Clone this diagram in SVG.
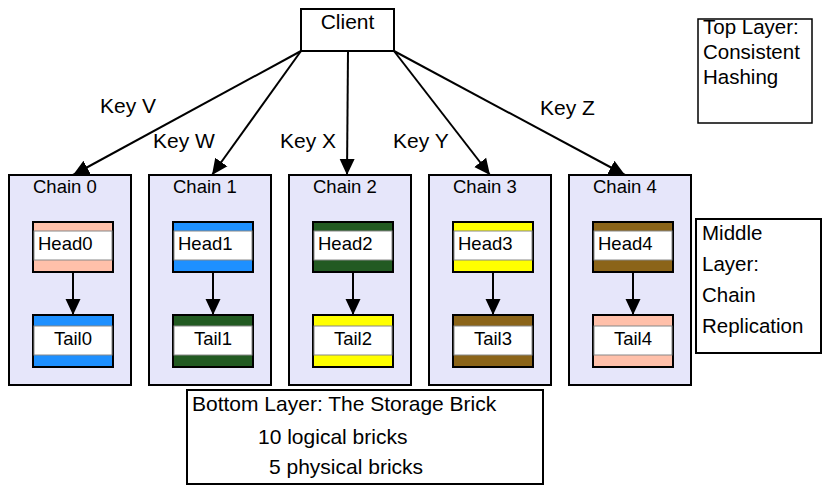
<svg xmlns="http://www.w3.org/2000/svg" width="822" height="486" viewBox="0 0 822 486">
<style>
text{font-family:"Liberation Sans",Arial,sans-serif;fill:#000}
.big{font-size:21px}
.lay{font-size:20.5px}
.sm{font-size:18.5px}
.chain{fill:#E6E6FA;stroke:#000;stroke-width:2}
.box{fill:#fff;stroke:#000;stroke-width:2}
.inner{fill:#fff;stroke:#888;stroke-width:1}
.edge{stroke:#000;stroke-width:2;fill:none;marker-end:url(#arr)}
.salmon{fill:#FFC0AA}
.blue{fill:#1E90FF}
.green{fill:#225A22}
.yellow{fill:#FFFF00}
.brown{fill:#8B6419}
.brick{stroke:#000;stroke-width:2}
</style>
<defs>
<marker id="arr" markerUnits="userSpaceOnUse" markerWidth="18" markerHeight="18" viewBox="0 0 18 18" refX="16" refY="9" orient="auto">
<path d="M0,1.5 L16,9 L0,16.5 Z" fill="#000"/>
</marker>
</defs>
<rect width="822" height="486" fill="#fff"/>

<g id="client">
<rect class="box" x="301" y="9" width="93" height="42"/>
<text class="big" x="347.5" y="29" text-anchor="middle">Client</text>
</g>

<g id="top-layer">
<rect fill="#fff" stroke="#000" stroke-width="1.5" x="698" y="19" width="114" height="104"/>
<text class="lay" x="703" y="34">Top Layer:</text>
<text class="lay" x="703" y="59">Consistent</text>
<text class="lay" x="703" y="84">Hashing</text>
</g>

<g id="chain0">
<rect class="chain" x="9" y="175" width="122" height="210"/>
<text class="sm" x="33" y="193">Chain 0</text>
</g>
<g id="chain1">
<rect class="chain" x="149" y="175" width="122" height="210"/>
<text class="sm" x="173" y="193">Chain 1</text>
</g>
<g id="chain2">
<rect class="chain" x="289" y="175" width="122" height="210"/>
<text class="sm" x="313" y="193">Chain 2</text>
</g>
<g id="chain3">
<rect class="chain" x="429" y="175" width="122" height="210"/>
<text class="sm" x="453" y="193">Chain 3</text>
</g>
<g id="chain4">
<rect class="chain" x="569" y="175" width="122" height="210"/>
<text class="sm" x="593" y="193">Chain 4</text>
</g>

<g id="head0">
<rect class="brick salmon" x="33" y="222" width="80" height="50"/>
<rect class="inner" x="34" y="231" width="78" height="29"/>
<text class="sm" x="38" y="250">Head0</text>
</g>
<g id="tail0">
<rect class="brick blue" x="33" y="315" width="80" height="52"/>
<rect class="inner" x="34" y="326" width="78" height="29"/>
<text class="sm" x="73" y="345" text-anchor="middle">Tail0</text>
</g>
<g id="head1">
<rect class="brick blue" x="173" y="222" width="80" height="50"/>
<rect class="inner" x="174" y="231" width="78" height="29"/>
<text class="sm" x="178" y="250">Head1</text>
</g>
<g id="tail1">
<rect class="brick green" x="173" y="315" width="80" height="52"/>
<rect class="inner" x="174" y="326" width="78" height="29"/>
<text class="sm" x="213" y="345" text-anchor="middle">Tail1</text>
</g>
<g id="head2">
<rect class="brick green" x="313" y="222" width="80" height="50"/>
<rect class="inner" x="314" y="231" width="78" height="29"/>
<text class="sm" x="318" y="250">Head2</text>
</g>
<g id="tail2">
<rect class="brick yellow" x="313" y="315" width="80" height="52"/>
<rect class="inner" x="314" y="326" width="78" height="29"/>
<text class="sm" x="353" y="345" text-anchor="middle">Tail2</text>
</g>
<g id="head3">
<rect class="brick yellow" x="453" y="222" width="80" height="50"/>
<rect class="inner" x="454" y="231" width="78" height="29"/>
<text class="sm" x="458" y="250">Head3</text>
</g>
<g id="tail3">
<rect class="brick brown" x="453" y="315" width="80" height="52"/>
<rect class="inner" x="454" y="326" width="78" height="29"/>
<text class="sm" x="493" y="345" text-anchor="middle">Tail3</text>
</g>
<g id="head4">
<rect class="brick brown" x="593" y="222" width="80" height="50"/>
<rect class="inner" x="594" y="231" width="78" height="29"/>
<text class="sm" x="598" y="250">Head4</text>
</g>
<g id="tail4">
<rect class="brick salmon" x="593" y="315" width="80" height="52"/>
<rect class="inner" x="594" y="326" width="78" height="29"/>
<text class="sm" x="633" y="345" text-anchor="middle">Tail4</text>
</g>

<g id="middle-layer">
<rect class="box" x="696" y="219" width="125" height="134"/>
<text class="lay" x="702" y="240">Middle</text>
<text class="lay" x="702" y="271">Layer:</text>
<text class="lay" x="702" y="302">Chain</text>
<text class="lay" x="702" y="333">Replication</text>
</g>

<g id="bottom-layer">
<rect class="box" x="187" y="390" width="356" height="94"/>
<text class="big" x="192" y="411">Bottom Layer: The Storage Brick</text>
<text class="big" x="258" y="444">10 logical bricks</text>
<text class="big" x="269" y="474">5 physical bricks</text>
</g>

<g id="connectors">
<line class="edge" x1="301" y1="51" x2="73" y2="175"/>
<line class="edge" x1="301" y1="51" x2="212" y2="175"/>
<line class="edge" x1="348" y1="51" x2="347" y2="175"/>
<line class="edge" x1="394" y1="51" x2="490" y2="175"/>
<line class="edge" x1="394" y1="51" x2="625" y2="175"/>
<line class="edge" x1="73" y1="272" x2="73" y2="315"/>
<line class="edge" x1="213" y1="272" x2="213" y2="315"/>
<line class="edge" x1="353" y1="272" x2="353" y2="315"/>
<line class="edge" x1="493" y1="272" x2="493" y2="315"/>
<line class="edge" x1="633" y1="272" x2="633" y2="315"/>
<text class="big" x="100" y="113">Key V</text>
<text class="big" x="153" y="148">Key W</text>
<text class="big" x="280" y="148">Key X</text>
<text class="big" x="393" y="148">Key Y</text>
<text class="big" x="540" y="115">Key Z</text>
</g>
</svg>
